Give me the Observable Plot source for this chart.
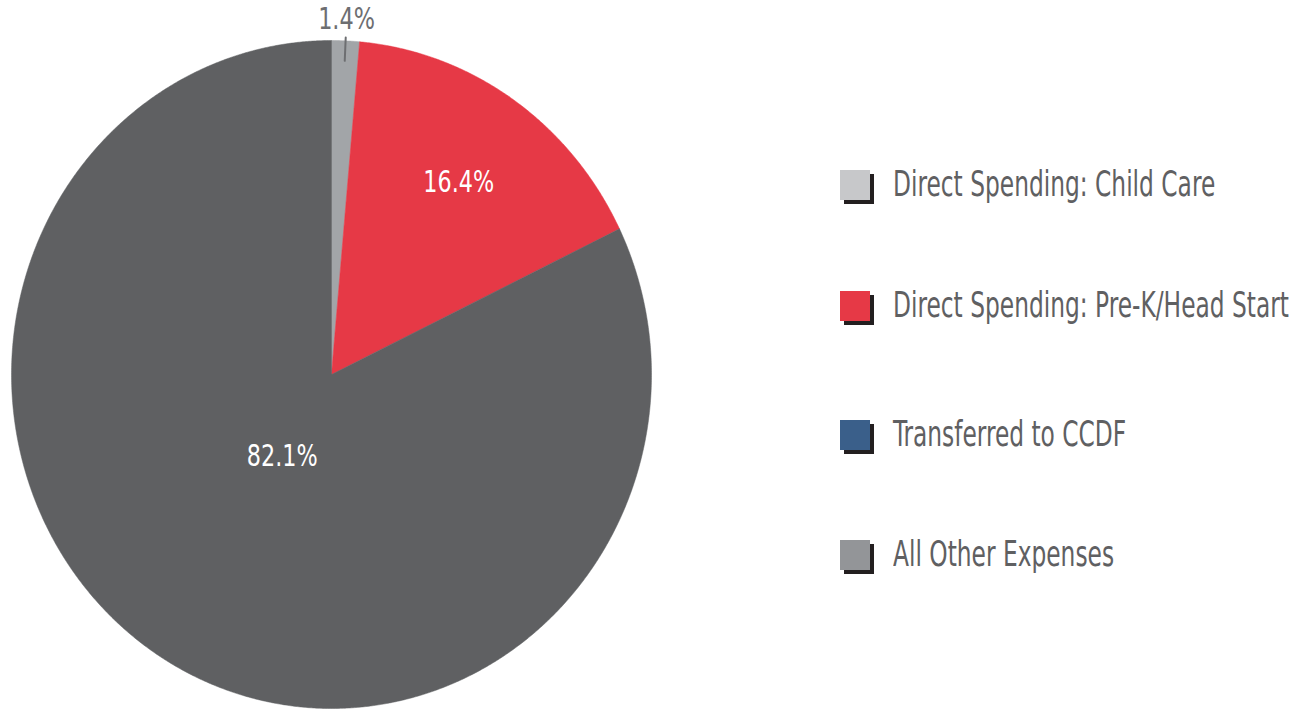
<!DOCTYPE html>
<html>
<head>
<meta charset="utf-8">
<script src="https://cdn.jsdelivr.net/npm/d3@7"></script>
<script src="https://cdn.jsdelivr.net/npm/@observablehq/plot@0.6"></script>
<style>
  html, body { margin: 0; padding: 0; background: #fff; }
  #wrap { position: relative; width: 1314px; height: 711px; overflow: hidden; }
  #pie { position: absolute; left: 0; top: 0; }
  #legend { position: absolute; left: 840px; top: 0; }
  .item { position: absolute; left: 0; height: 34px; white-space: nowrap; }
  .sw { position: absolute; left: 0; top: 0; width: 30px; height: 30px; box-shadow: 4px 4px 0 #231f20; }
  .lab { position: absolute; left: 53px; top: -7px; font-family: "DejaVu Sans Condensed", "Liberation Sans Narrow", sans-serif; font-size: 36px; color: #5f6062; transform-origin: 0 50%; transform: scaleX(0.72); }
</style>
</head>
<body>
<div id="wrap">
  <div id="pie"></div>
  <div id="legend"></div>
</div>
<script>
const categories = ["Direct Spending: Child Care", "Direct Spending: Pre-K/Head Start", "Transferred to CCDF", "All Other Expenses"];
const values = [1.4, 16.4, 0.0, 82.1];
const labels = ["1.4%", "16.4%", "", "82.1%"];
const sliceColors = ["#a2a5a8", "#e63946", "#3a5f8a", "#5f6062"];
const legendColors = ["#c7c8ca", "#e63946", "#3a5f8a", "#939598"];
const labelColors = ["#6d6e71", "#ffffff", "#ffffff", "#ffffff"];
const labelRadius = [1.065, 0.70, 0.5, 0.29];

const arcs = d3.pie().sort(null).value(d => d)(values);

// polygon vertices for each slice (unit circle, angle measured clockwise from 12 o'clock)
const pts = [];
arcs.forEach((a, i) => {
  if (a.endAngle - a.startAngle <= 0) return;
  pts.push({cat: categories[i], x: 0, y: 0});
  const n = Math.max(2, Math.ceil((a.endAngle - a.startAngle) / 0.005));
  for (let k = 0; k <= n; k++) {
    const t = a.startAngle + (a.endAngle - a.startAngle) * k / n;
    pts.push({cat: categories[i], x: Math.sin(t), y: Math.cos(t)});
  }
  pts.push({cat: categories[i], x: 0, y: 0});
});

const labelData = arcs.map((a, i) => {
  const m = (a.startAngle + a.endAngle) / 2;
  return {cat: categories[i], text: labels[i], x: labelRadius[i] * Math.sin(m), y: labelRadius[i] * Math.cos(m), color: labelColors[i]};
}).filter(d => d.text);

// leader tick for the small outside label
const tickData = [];
arcs.forEach((a, i) => {
  if (labelRadius[i] > 1) {
    const m = (a.startAngle + a.endAngle) / 2;
    tickData.push({cat: categories[i], x: 1.01 * Math.sin(m), y: 1.01 * Math.cos(m)});
    tickData.push({cat: categories[i], x: 0.94 * Math.sin(m), y: 0.94 * Math.cos(m)});
  }
});

const plot = Plot.plot({
  width: 662,
  height: 711,
  marginLeft: 11,
  marginRight: 11,
  marginTop: 40,
  marginBottom: 3,
  x: {domain: [-1, 1], axis: null},
  y: {domain: [-1, 1], axis: null},
  color: {domain: categories, range: sliceColors},
  marks: [
    Plot.line(pts, {x: "x", y: "y", z: "cat", fill: "cat", stroke: "cat", strokeWidth: 0.5}),
    Plot.line(tickData, {x: "x", y: "y", z: "cat", stroke: "#6d6e71", strokeWidth: 2}),
    Plot.text(labelData, {x: "x", y: "y", text: "text", fill: d => d.color, fontSize: 31, fontFamily: "'DejaVu Sans Condensed', 'Liberation Sans Narrow', sans-serif", className: "pielabel"})
  ]
});
document.getElementById("pie").appendChild(plot);

// condense label glyphs horizontally
plot.querySelectorAll(".pielabel text").forEach(t => {
  const len = t.getComputedTextLength();
  t.setAttribute("textLength", (len * 0.8).toFixed(1));
  t.setAttribute("lengthAdjust", "spacingAndGlyphs");
});

const legend = document.getElementById("legend");
const legendTops = [170, 291, 420, 540];
categories.forEach((c, i) => {
  const item = document.createElement("div");
  item.className = "item";
  item.style.top = legendTops[i] + "px";
  const sw = document.createElement("div");
  sw.className = "sw";
  sw.style.background = legendColors[i];
  const lab = document.createElement("div");
  lab.className = "lab";
  lab.textContent = c;
  item.appendChild(sw);
  item.appendChild(lab);
  legend.appendChild(item);
});
</script>
</body>
</html>
